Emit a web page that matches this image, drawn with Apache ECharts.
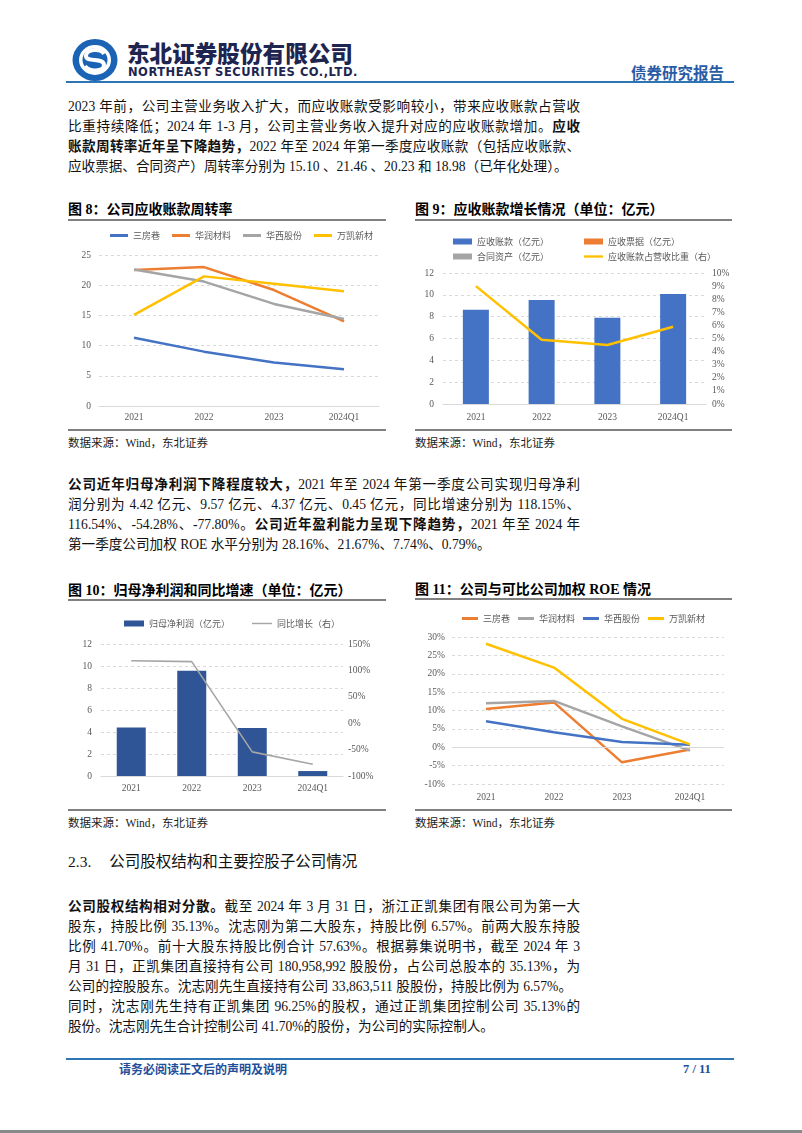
<!DOCTYPE html>
<html><head><meta charset="utf-8">
<script src="https://cdn.jsdelivr.net/npm/echarts@6/dist/echarts.min.js"></script>
<style>
body{margin:0;background:#fff;}
#page{position:relative;width:802px;height:1133px;overflow:hidden;background:#fff;font-family:"Liberation Serif","Noto Sans CJK SC",serif;color:#111;}
.ln{position:absolute;left:68px;height:20px;line-height:20px;font-size:13.6px;}
.j{width:512px;text-align:justify;text-align-last:justify;}
b{font-weight:700;}
.ttl{position:absolute;font-size:14px;font-weight:700;height:20px;line-height:20px;white-space:nowrap;color:#000;}
.rule{position:absolute;height:2px;background:#808080;}
.src{position:absolute;font-size:11.5px;color:#222;height:16px;line-height:16px;white-space:nowrap;}
.chart{position:absolute;}
</style></head><body><div id="page">

<svg style="position:absolute;left:72px;top:38px" width="46" height="44" viewBox="-23 -22 46 44">
  <ellipse cx="0" cy="0" rx="22.5" ry="21" fill="#1B63B5"/>
  <ellipse cx="0" cy="0" rx="16" ry="15" fill="#fff"/>
  <ellipse cx="0" cy="0" rx="12.5" ry="11.5" fill="#1B63B5"/>
  <path d="M 9 -6 C 6 -12, -9 -11, -9 -4 C -9 3, 9 -3, 9 5 C 9 12, -6 12, -10 6" fill="none" stroke="#fff" stroke-width="4"/>
</svg>
<div style="position:absolute;left:127px;top:39px;font-family:'Noto Sans CJK SC';font-weight:900;font-size:22.6px;line-height:28px;color:#1d2550;white-space:nowrap;">东北证券股份有限公司</div>
<div style="position:absolute;left:128px;top:64px;font-family:'DejaVu Sans';font-weight:700;font-size:11.5px;line-height:16px;color:#1d2550;white-space:nowrap;letter-spacing:0.5px;">NORTHEAST SECURITIES CO.,LTD.</div>
<div style="position:absolute;left:631px;top:61px;font-family:'Noto Sans CJK SC';font-weight:700;font-size:15.5px;line-height:22px;color:#2a5ca6;white-space:nowrap;">债券研究报告</div>
<div style="position:absolute;left:66px;top:81px;width:668px;height:2px;background:#2E75B6;"></div>

<div class="ln j" style="top:97px">2023 年前，公司主营业务收入扩大，而应收账款受影响较小，带来应收账款占营收</div>
<div class="ln j" style="top:117px">比重持续降低；2024 年 1-3 月，公司主营业务收入提升对应的应收账款增加。<b>应收</b></div>
<div class="ln j" style="top:137px"><b>账款周转率近年呈下降趋势，</b>2022 年至 2024 年第一季度应收账款（包括应收账款、</div>
<div class="ln" style="top:157px;white-space:nowrap;">应收票据、合同资产）周转率分别为 15.10 、21.46 、20.23 和 18.98（已年化处理）。</div>

<div class="ttl" style="left:68px;top:200px">图 8：公司应收账款周转率</div>
<div class="rule" style="left:68px;top:219px;width:318px"></div>
<div class="chart" id="c8" style="left:68px;top:222px;width:318px;height:207px"></div>
<div class="rule" style="left:68px;top:429px;width:318px"></div>
<div class="src" style="left:68px;top:435px">数据来源：Wind，东北证券</div>

<div class="ttl" style="left:415px;top:200px">图 9：应收账款增长情况（单位：亿元）</div>
<div class="rule" style="left:415px;top:219px;width:317px"></div>
<div class="chart" id="c9" style="left:415px;top:222px;width:317px;height:207px"></div>
<div class="rule" style="left:415px;top:429px;width:317px"></div>
<div class="src" style="left:415px;top:435px">数据来源：Wind，东北证券</div>

<div class="ln j" style="top:475px"><b>公司近年归母净利润下降程度较大，</b>2021 年至 2024 年第一季度公司实现归母净利</div>
<div class="ln j" style="top:495px">润分别为 4.42 亿元、9.57 亿元、4.37 亿元、0.45 亿元，同比增速分别为 118.15%、</div>
<div class="ln j" style="top:515px">116.54%、-54.28%、-77.80%。<b>公司近年盈利能力呈现下降趋势，</b>2021 年至 2024 年</div>
<div class="ln" style="top:535px;white-space:nowrap;">第一季度公司加权 ROE 水平分别为 28.16%、21.67%、7.74%、0.79%。</div>

<div class="ttl" style="left:68px;top:581px">图 10：归母净利润和同比增速（单位：亿元）</div>
<div class="rule" style="left:68px;top:599px;width:318px"></div>
<div class="chart" id="c10" style="left:68px;top:601px;width:318px;height:208px"></div>
<div class="rule" style="left:68px;top:809px;width:318px"></div>
<div class="src" style="left:68px;top:815px">数据来源：Wind，东北证券</div>

<div class="ttl" style="left:415px;top:580px">图 11：公司与可比公司加权 ROE 情况</div>
<div class="rule" style="left:415px;top:598px;width:317px"></div>
<div class="chart" id="c11" style="left:415px;top:601px;width:317px;height:208px"></div>
<div class="rule" style="left:415px;top:809px;width:317px"></div>
<div class="src" style="left:415px;top:815px">数据来源：Wind，东北证券</div>

<div style="position:absolute;left:68px;top:851px;font-size:15.5px;line-height:22px;white-space:nowrap;color:#111;">2.3.<span style="display:inline-block;width:18px"></span>公司股权结构和主要控股子公司情况</div>

<div class="ln j" style="top:897px"><b>公司股权结构相对分散。</b>截至 2024 年 3 月 31 日，浙江正凯集团有限公司为第一大</div>
<div class="ln j" style="top:917px">股东，持股比例 35.13%。沈志刚为第二大股东，持股比例 6.57%。前两大股东持股</div>
<div class="ln j" style="top:937px">比例 41.70%。前十大股东持股比例合计 57.63%。根据募集说明书，截至 2024 年 3</div>
<div class="ln j" style="top:957px">月 31 日，正凯集团直接持有公司 180,958,992 股股份，占公司总股本的 35.13%，为</div>
<div class="ln j" style="top:977px;width:504px">公司的控股股东。沈志刚先生直接持有公司 33,863,511 股股份，持股比例为 6.57%。</div>
<div class="ln j" style="top:997px">同时，沈志刚先生持有正凯集团 96.25%的股权，通过正凯集团控制公司 35.13%的</div>
<div class="ln" style="top:1017px;white-space:nowrap;">股份。沈志刚先生合计控制公司 41.70%的股份，为公司的实际控制人。</div>

<div style="position:absolute;left:66px;top:1058px;width:668px;height:2px;background:#2E75B6;"></div>
<div style="position:absolute;left:119px;top:1061px;font-family:'Noto Sans CJK SC';font-weight:700;font-size:12px;line-height:16px;color:#1F4E9A;white-space:nowrap;">请务必阅读正文后的声明及说明</div>
<div style="position:absolute;left:683px;top:1061px;font-weight:700;font-size:12.5px;line-height:16px;color:#1F4E9A;white-space:nowrap;">7 / 11</div>
<div style="position:absolute;left:0;top:1130px;width:802px;height:3px;background:#8a8a8a;"></div>

</div>
<script>
// ---------- data ----------
const categories = ['2021', '2022', '2023', '2024Q1'];

// Fig 8: receivable turnover
const fig8Names = ['三房巷', '华润材料', '华西股份', '万凯新材'];
const turnoverSanfangxiang = [11.3, 9.0, 7.2, 6.1];
const turnoverHuarun = [22.5, 23.0, 19.2, 14.0];
const turnoverHuaxi = [22.6, 20.6, 16.9, 14.4];
const turnoverWankai = [15.10, 21.46, 20.23, 18.98];

// Fig 9: receivables growth
const fig9Names = ['应收账款（亿元）', '应收票据（亿元）', '合同资产（亿元）', '应收账款占营收比重（右）'];
const receivables = [8.64, 9.53, 7.91, 10.08];
const notesReceivable = [null, null, null, null];
const contractAssets = [null, null, null, null];
const receivableRatioPct = [9.0, 4.9, 4.5, 5.9];

// Fig 10: net profit & YoY
const fig10Names = ['归母净利润（亿元）', '同比增长（右）'];
const netProfit = [4.42, 9.57, 4.37, 0.45];
const profitYoYPct = [118.15, 116.54, -54.28, -77.80];

// Fig 11: weighted ROE
const fig11Names = ['三房巷', '华润材料', '华西股份', '万凯新材'];
const roeSanfangxiang = [10.4, 12.2, -4.1, -0.6];
const roeHuarun = [12.0, 12.6, 5.7, -0.9];
const roeHuaxi = [7.1, 4.1, 1.4, 0.7];
const roeWankai = [28.16, 21.67, 7.74, 0.79];

// axis ranges
const fig8Axis = {min: 0, max: 25, interval: 5};
const fig9LeftAxis = {min: 0, max: 12, interval: 2};
const fig9RightAxis = {min: 0, max: 10, interval: 1};
const fig10LeftAxis = {min: 0, max: 12, interval: 2};
const fig10RightAxis = {min: -100, max: 150, interval: 50};
const fig11Axis = {min: -10, max: 30, interval: 5};

// ---------- styles ----------
const BLUE = '#4472C4', ORANGE = '#ED7D31', GRAY = '#A5A5A5', YELLOW = '#FFC000', DARKBLUE = '#2F5597';
const labelColor = '#595959';
const numFont = 'Liberation Serif';
const cjkFont = 'Noto Sans CJK SC';
const gridLine = {show: true, lineStyle: {color: '#D9D9D9', type: [3, 3], width: 1}};
const legendText = {fontSize: 9, color: labelColor, fontFamily: cjkFont};
const thickLineIcon = 'path://M0,0 L8,0 L8,1 L0,1 Z';
const thinLineIcon = 'path://M0,0 L14,0 L14,1 L0,1 Z';

function xAxisCfg(margin, showLine) {
  return {
    type: 'category', data: categories, boundaryGap: true,
    axisLine: {show: showLine, lineStyle: {color: '#D9D9D9', width: 1}},
    axisTick: {show: false},
    axisLabel: {color: labelColor, fontSize: 9.5, fontFamily: numFont, margin: margin}
  };
}
function yAxisCfg(r, fmt, margin, split) {
  return Object.assign({
    type: 'value', axisLine: {show: false}, axisTick: {show: false},
    splitLine: split ? gridLine : {show: false},
    axisLabel: {color: labelColor, fontSize: 9.5, fontFamily: numFont, margin: margin, formatter: fmt}
  }, r);
}
function lineSeries(name, data, color, width, extra) {
  return Object.assign({
    name: name, type: 'line', data: data, symbol: 'none', smooth: false,
    lineStyle: {color: color, width: width}, itemStyle: {color: color}
  }, extra || {});
}

// ---------- Fig 8 ----------
const c8 = echarts.init(document.getElementById('c8'));
c8.setOption({
  animation: false,
  legend: {top: 9, left: 42, icon: 'rect', itemWidth: 18, itemHeight: 3, itemGap: 12, padding: 0, textStyle: legendText, data: fig8Names},
  grid: {left: 31, right: 7, top: 33, bottom: 23, containLabel: false, outerBoundsMode: 'none'},
  xAxis: xAxisCfg(6, true),
  yAxis: yAxisCfg(fig8Axis, '{value}', 8, true),
  series: [
    lineSeries(fig8Names[0], turnoverSanfangxiang, BLUE, 2.5),
    lineSeries(fig8Names[1], turnoverHuarun, ORANGE, 2.5),
    lineSeries(fig8Names[2], turnoverHuaxi, GRAY, 2.5),
    lineSeries(fig8Names[3], turnoverWankai, YELLOW, 2.5)
  ]
});

// ---------- Fig 9 ----------
const c9 = echarts.init(document.getElementById('c9'));
c9.setOption({
  animation: false,
  legend: [
    {top: 15, left: 38, itemWidth: 19, itemHeight: 6, itemGap: 35, padding: 0, textStyle: legendText,
     data: [{name: fig9Names[0], icon: 'rect'}, {name: fig9Names[1], icon: 'rect'}]},
    {top: 30, left: 38, itemWidth: 19, itemHeight: 6, itemGap: 35, padding: 0, textStyle: legendText,
     data: [{name: fig9Names[2], icon: 'rect'}, {name: fig9Names[3], icon: thickLineIcon}]}
  ],
  grid: {left: 28, right: 26, top: 51, bottom: 25, containLabel: false, outerBoundsMode: 'none'},
  xAxis: xAxisCfg(8, true),
  yAxis: [
    yAxisCfg(fig9LeftAxis, '{value}', 9, true),
    yAxisCfg(fig9RightAxis, '{value}%', 6, false)
  ],
  series: [
    {name: fig9Names[0], type: 'bar', data: receivables, barWidth: 26, barGap: '-100%', itemStyle: {color: BLUE}},
    {name: fig9Names[1], type: 'bar', data: notesReceivable, barWidth: 26, barGap: '-100%', itemStyle: {color: ORANGE}},
    {name: fig9Names[2], type: 'bar', data: contractAssets, barWidth: 26, barGap: '-100%', itemStyle: {color: GRAY}},
    lineSeries(fig9Names[3], receivableRatioPct, YELLOW, 2.5, {yAxisIndex: 1})
  ]
});

// ---------- Fig 10 ----------
const c10 = echarts.init(document.getElementById('c10'));
c10.setOption({
  animation: false,
  legend: {top: 18, left: 56, itemWidth: 20, itemHeight: 6, itemGap: 22, padding: 0, textStyle: legendText,
     data: [{name: fig10Names[0], icon: 'rect'}, {name: fig10Names[1], icon: thinLineIcon}]},
  grid: {left: 33, right: 43, top: 43, bottom: 33, containLabel: false, outerBoundsMode: 'none'},
  xAxis: xAxisCfg(7, true),
  yAxis: [
    yAxisCfg(fig10LeftAxis, '{value}', 9, true),
    yAxisCfg(fig10RightAxis, '{value}%', 5, false)
  ],
  series: [
    {name: fig10Names[0], type: 'bar', data: netProfit, barWidth: 29, itemStyle: {color: DARKBLUE}},
    lineSeries(fig10Names[1], profitYoYPct, GRAY, 1.6, {yAxisIndex: 1})
  ]
});

// ---------- Fig 11 ----------
const c11 = echarts.init(document.getElementById('c11'));
c11.setOption({
  animation: false,
  legend: {top: 13, left: 47, icon: 'rect', itemWidth: 16, itemHeight: 3, itemGap: 8, padding: 0, textStyle: legendText, data: fig11Names},
  grid: {left: 37, right: 8, top: 36, bottom: 25, containLabel: false, outerBoundsMode: 'none'},
  xAxis: xAxisCfg(8, false),
  yAxis: yAxisCfg(fig11Axis, '{value}%', 7, true),
  series: [
    lineSeries(fig11Names[0], roeSanfangxiang, ORANGE, 2.5, {
      markLine: {silent: true, symbol: 'none', label: {show: false}, lineStyle: {color: '#D9D9D9', type: 'solid', width: 1}, data: [{yAxis: 0}]}
    }),
    lineSeries(fig11Names[1], roeHuarun, GRAY, 2.5),
    lineSeries(fig11Names[2], roeHuaxi, BLUE, 2.5),
    lineSeries(fig11Names[3], roeWankai, YELLOW, 2.5)
  ]
});
</script></body></html>
